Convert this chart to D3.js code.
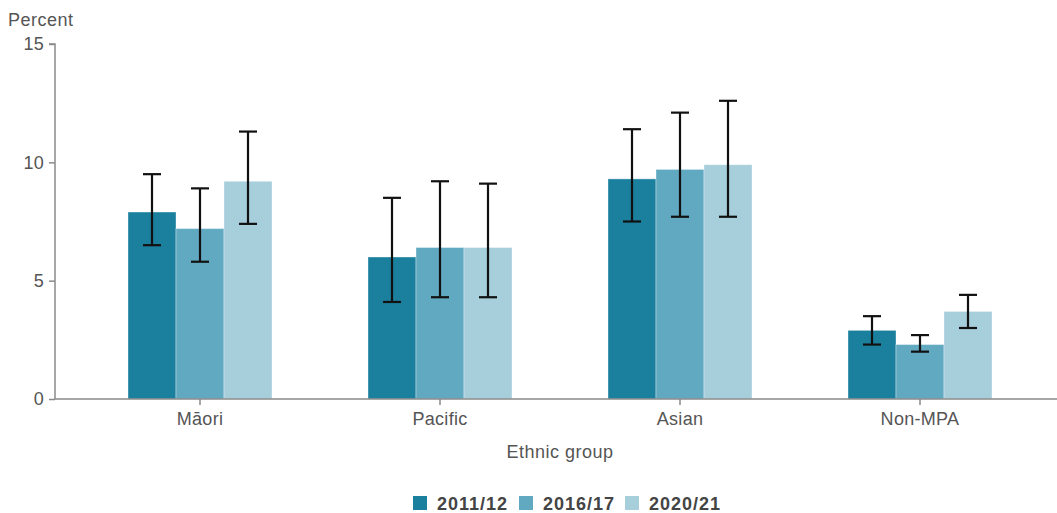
<!DOCTYPE html>
<html>
<head>
<meta charset="utf-8">
<script src="https://cdn.jsdelivr.net/npm/d3@7"></script>
<style>
  body { margin: 0; background: #fff; }
  svg { font-family: "Liberation Sans", Arial, sans-serif; }
</style>
</head>
<body>
<svg id="chart" width="1057" height="513"></svg>
<script>
const categories = ["Māori", "Pacific", "Asian", "Non-MPA"];
const years = ["2011/12", "2016/17", "2020/21"];
const values2011 = [7.9, 6.0, 9.3, 2.9];
const values2016 = [7.2, 6.4, 9.7, 2.3];
const values2020 = [9.2, 6.4, 9.9, 3.7];
const lower2011 = [6.5, 4.1, 7.5, 2.3];
const upper2011 = [9.5, 8.5, 11.4, 3.5];
const lower2016 = [5.8, 4.3, 7.7, 2.0];
const upper2016 = [8.9, 9.2, 12.1, 2.7];
const lower2020 = [7.4, 4.3, 7.7, 3.0];
const upper2020 = [11.3, 9.1, 12.6, 4.4];
const yTicks = [0, 5, 10, 15];
const colors = ["#1b809e", "#61a9c1", "#a7cedb"];

const seriesValues = [values2011, values2016, values2020];
const seriesLower = [lower2011, lower2016, lower2020];
const seriesUpper = [upper2011, upper2016, upper2020];

const rows = [];
categories.forEach((c, i) => {
  years.forEach((y, j) => {
    rows.push({ cat: c, year: y, v: seriesValues[j][i], lo: seriesLower[j][i], hi: seriesUpper[j][i], j });
  });
});

const svg = d3.select("#chart");
const axisColor = "#8a8a8a";
const textColor = "#555";
const font = "'Liberation Sans', Arial, sans-serif";

const x = d3.scaleBand().domain(categories).range([80, 1040]).paddingInner(0.4).paddingOuter(0.2);
const x1 = d3.scaleBand().domain(years).range([0, x.bandwidth()]);
const y = d3.scaleLinear().domain([0, 15]).range([399, 44]);

// bars
svg.append("g").selectAll("rect").data(rows).join("rect")
  .attr("x", d => x(d.cat) + x1(d.year))
  .attr("y", d => y(d.v))
  .attr("width", x1.bandwidth())
  .attr("height", d => y(0) - y(d.v))
  .attr("fill", d => colors[d.j])
  .attr("stroke", "rgba(255,255,255,0.35)")
  .attr("stroke-width", 1);

// error bars
const eb = svg.append("g").attr("stroke", "#111").attr("stroke-width", 2.2).attr("fill", "none");
const cap = 9;
rows.forEach(d => {
  const cx = x(d.cat) + x1(d.year) + x1.bandwidth() / 2;
  eb.append("line").attr("x1", cx).attr("x2", cx).attr("y1", y(d.lo)).attr("y2", y(d.hi));
  eb.append("line").attr("x1", cx - cap).attr("x2", cx + cap).attr("y1", y(d.lo)).attr("y2", y(d.lo));
  eb.append("line").attr("x1", cx - cap).attr("x2", cx + cap).attr("y1", y(d.hi)).attr("y2", y(d.hi));
});

// y axis
const yAxis = svg.append("g").attr("transform", "translate(55,0)")
  .call(d3.axisLeft(y).tickValues(yTicks).tickSize(6).tickPadding(5));
yAxis.select(".domain").attr("stroke", axisColor).attr("stroke-width", 1.5)
  .attr("d", `M-6,${y(15)}H0V${y(0)}`);
yAxis.selectAll(".tick line").attr("stroke", axisColor).attr("stroke-width", 1.5);
yAxis.selectAll(".tick text").attr("fill", textColor).style("font-size", "18px")
  .style("font-family", font).style("letter-spacing", "0.3px");

// x axis
const xAxis = svg.append("g").attr("transform", `translate(0,${y(0)})`)
  .call(d3.axisBottom(x).tickSize(6).tickPadding(7));
xAxis.select(".domain").attr("stroke", axisColor).attr("stroke-width", 1.5)
  .attr("d", "M55,0H1057");
xAxis.selectAll(".tick line").attr("stroke", axisColor).attr("stroke-width", 1.5);
xAxis.selectAll(".tick text").attr("fill", textColor).style("font-size", "18px")
  .style("font-family", font).style("letter-spacing", "0.3px");

// axis titles
svg.append("text").attr("x", 8).attr("y", 26).attr("fill", textColor)
  .style("font-size", "18px").style("letter-spacing", "0.5px").text("Percent");
svg.append("text").attr("x", 560).attr("y", 458).attr("text-anchor", "middle").attr("fill", textColor)
  .style("font-size", "18px").style("letter-spacing", "0.5px").text("Ethnic group");

// legend
const legend = svg.append("g").attr("transform", "translate(413,503)");
const legendX = [0, 106, 212];
years.forEach((yr, j) => {
  const g = legend.append("g").attr("transform", `translate(${legendX[j]},0)`);
  g.append("rect").attr("x", 0).attr("y", -7).attr("width", 14).attr("height", 14).attr("fill", colors[j]);
  g.append("text").attr("x", 24).attr("y", 7).attr("fill", "#444")
    .style("font-size", "18px").style("font-weight", "bold").style("letter-spacing", "1px").text(yr);
});
</script>
</body>
</html>
